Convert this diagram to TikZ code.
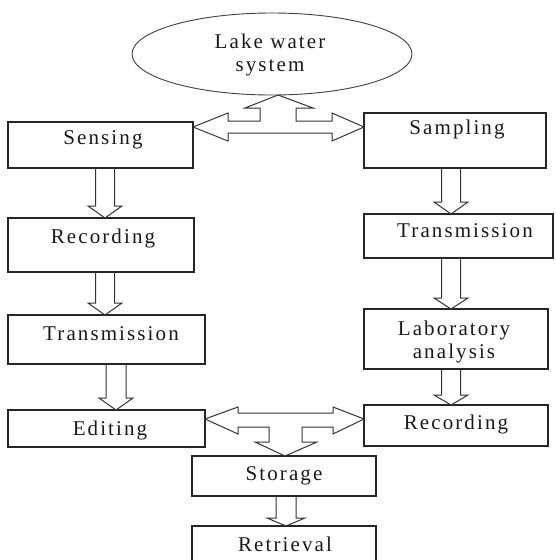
\documentclass[tikz,border=0pt]{standalone}
\usepackage{fontspec}
\setmainfont{Liberation Serif}[LetterSpace=10]
\usetikzlibrary{calc,shapes.geometric}
\newcommand\blkdown[6]{%
  \draw[blk] let \p1=(#1.south), \p2=(#2.north) in
    (#3pt-#4pt,\y1) -- (#3pt-#4pt,\y2+#6pt) -- (#3pt-#5pt,\y2+#6pt) -- (#3pt,\y2)
    -- (#3pt+#5pt,\y2+#6pt) -- (#3pt+#4pt,\y2+#6pt) -- (#3pt+#4pt,\y1);}
\begin{document}
\begin{tikzpicture}[x=1pt,y=-1pt,
  box/.style={draw=black!85, line width=1.4pt, rectangle, inner sep=0pt, outer sep=0pt},
  blk/.style={draw=black!80, line width=1pt, line join=miter},
  txt/.style={inner sep=0pt, text=black!90, font=\fontsize{21}{23.5}\selectfont, align=center}]
\clip (0,0) rectangle (556,560);
\fill[white] (0,0) rectangle (556,560);
% shapes
\node[draw=black!75, line width=0.9pt, ellipse, minimum width=280pt, minimum height=82pt, inner sep=0pt, outer sep=0pt] (lake) at (272,54) {};
\node[box, minimum width=185pt, minimum height=46pt] (sensing) at (100.5,145) {};
\node[box, minimum width=182pt, minimum height=55pt] (sampling) at (455,140.5) {};
\node[box, minimum width=186pt, minimum height=54pt] (recL) at (101,245) {};
\node[box, minimum width=189pt, minimum height=44pt] (transR) at (458.5,236) {};
\node[box, minimum width=197pt, minimum height=49pt] (transL) at (106.5,339.5) {};
\node[box, minimum width=184pt, minimum height=60pt] (lab) at (456,339) {};
\node[box, minimum width=197pt, minimum height=37pt] (editing) at (106.5,428.5) {};
\node[box, minimum width=184pt, minimum height=41pt] (recR) at (456,425.5) {};
\node[box, minimum width=184pt, minimum height=40pt] (storage) at (284,476) {};
\node[box, minimum width=184pt, minimum height=50pt] (retrieval) at (284,551) {};
% texts
\node[txt] (tlake) at (270,55) {Lake water\\system};
\node[txt] (tsensing) at (103,140) {Sensing};
\node[txt] (tsampling) at (457,129) {Sampling};
\node[txt] (trecL) at (103,238) {Recording};
\node[txt] (ttransR) at (465,231) {Transmission};
\node[txt] (ttransL) at (111,334) {Transmission};
\node[txt] (tlab) at (454,342) {Laboratory\\analysis};
\node[txt] (tedit) at (110,430) {Editing};
\node[txt] (trecR) at (456,424) {Recording};
\node[txt] (tstorage) at (284,476) {Storage};
\node[txt] (tretr) at (285,544) {Retrieval};
% three-way arrows
\draw[blk] (278,0 |- lake.south) -- (313,108) -- (296,108) -- (296,121) -- (332,121) -- (332,113)
  -- (sampling.west |- 0,127) -- (332,141) -- (332,133) -- (228,133) -- (228,141)
  -- (sensing.east |- 0,127) -- (228,113) -- (228,121) -- (260,121) -- (260,108) -- (245,108) -- cycle;
\draw[blk] (editing.east |- 0,419) -- (238,407) -- (238,413) -- (333,413) -- (333,407)
  -- (recR.west |- 0,419) -- (333,434) -- (333,427) -- (302,427) -- (302,442) -- (317,442)
  -- (285,0 |- storage.north) -- (255,442) -- (269,442) -- (269,427) -- (238,427) -- (238,434) -- cycle;
% down arrows
\blkdown{sensing}{recL}{105}{9.5}{17}{12}
\blkdown{recL}{transL}{105}{9.5}{17}{12}
\blkdown{transL}{editing}{116}{10}{17}{12}
\blkdown{sampling}{transR}{451}{9.5}{17}{12}
\blkdown{transR}{lab}{451}{9.5}{17}{11}
\blkdown{lab}{recR}{451}{9.5}{17}{10}
\blkdown{storage}{retrieval}{286}{10}{19}{8}
\end{tikzpicture}
\end{document}
